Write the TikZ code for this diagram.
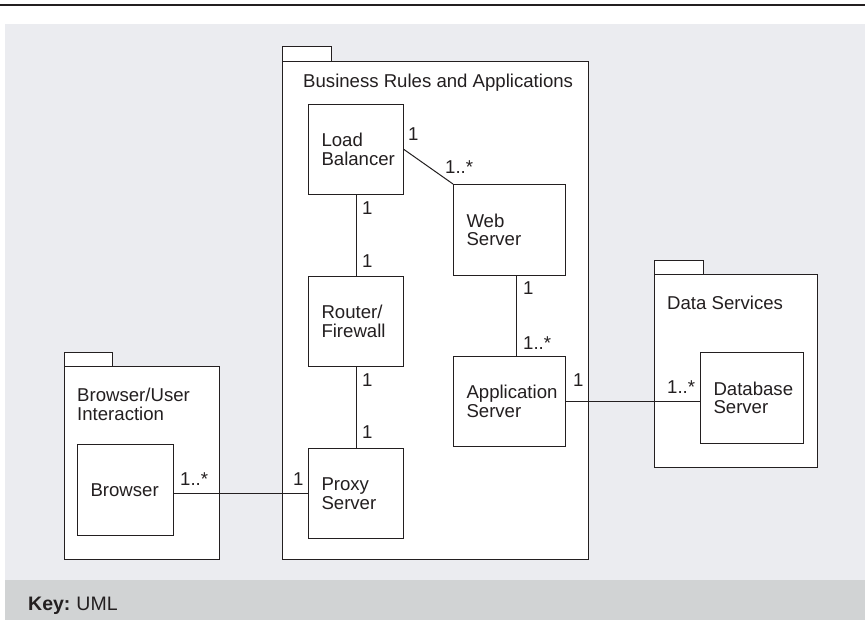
\documentclass[tikz,border=0pt]{standalone}
\usepackage{fontspec}
\setmainfont{Liberation Sans}
\usetikzlibrary{positioning}
\hfuzz=10pt

\definecolor{panel}{HTML}{EBECF0}
\definecolor{keyband}{HTML}{D1D3D4}
\definecolor{ink}{HTML}{231F20}

\tikzset{
  every node/.style={font=\fontsize{18.6}{18.5}\selectfont, text=ink},
  comp/.style={draw=ink, fill=white, line width=1pt, anchor=north west,
    align=left, inner xsep=13pt, inner ysep=0pt, minimum height=90pt},
  pkg/.style={draw=ink, fill=white, line width=1pt, anchor=north west, inner sep=0pt},
  mult/.style={anchor=base west, inner sep=0pt},
  pkgname/.style={anchor=base west, inner sep=0pt, align=left},
  link/.style={draw=ink, line width=1pt},
}

\begin{document}
\begin{tikzpicture}[x=1pt, y=-1pt]
        \useasboundingbox (0,0) rectangle (865,620);
        \fill[panel] (5,24) rectangle (865,580);
        \fill[keyband] (5,580) rectangle (865,620);
        \draw[ink, line width=1.5pt] (0,5) -- (865,5);

        % packages: tab + body
        \node[pkg, minimum width=49pt, minimum height=15pt] (biztab) at (282,46) {};
        \node[pkg, minimum width=306pt, minimum height=498pt] (biz) at (282,61) {};
        \node[pkg, minimum width=48pt, minimum height=14pt] (uitab) at (64,352) {};
        \node[pkg, minimum width=155pt, minimum height=193pt] (ui) at (64,366) {};
        \node[pkg, minimum width=49pt, minimum height=14pt] (datatab) at (654,260) {};
        \node[pkg, minimum width=163pt, minimum height=193pt] (data) at (654,274) {};

        \node[pkgname] at (303,88) {Business Rules and Applications};
        \node[pkgname] at (77,420) {Browser/User\\Interaction};
        \node[pkgname] at (667,310) {Data Services};

        % components
        \node[comp, text width=69pt] (lb) at (308,104) {Load\\Balancer};
        \node[comp, text width=69pt] (rf) at (308,276) {Router/\\Firewall};
        \node[comp, text width=69pt] (proxy) at (308,448) {Proxy\\Server};
        \node[comp, text width=86pt, minimum height=91pt] (web) at (453,184) {Web\\Server};
        \node[comp, text width=86pt] (app) at (453,356) {Application\\Server};
        \node[comp, text width=70pt, minimum height=91pt] (browser) at (77,444) {Browser};
        \node[comp, text width=77pt, minimum height=91pt] (db) at (700,352) {Database\\Server};

        % associations
        \draw[link] (lb.east) -- (web.north west);
        \draw[link] (lb.south) -- (rf.north);
        \draw[link] (rf.south) -- (proxy.north);
        \draw[link] ([xshift=7pt]web.south) -- ([xshift=7pt]web.south |- app.north);
        \draw[link] (app.east) -- (app.east -| db.west);
        \draw[link] (proxy.west) -- (proxy.west -| browser.east);

        % multiplicities
        \node[mult] at (408,141) {1};
        \node[mult] at (445,174) {1..*};
        \node[mult] at (362,215) {1};
        \node[mult] at (362,268) {1};
        \node[mult] at (362,386) {1};
        \node[mult] at (362,438) {1};
        \node[mult] at (523,295) {1};
        \node[mult] at (523,350) {1..*};
        \node[mult] at (573,386) {1};
        \node[mult] at (667,393) {1..*};
        \node[mult] at (180,485) {1..*};
        \node[mult] at (293,485) {1};

        \node[anchor=base west, inner sep=0pt, font=\fontsize{19.5}{20}\selectfont]
          at (28,610) {\bfseries Key:\hspace{6pt}\mdseries UML};
\end{tikzpicture}
\end{document}
